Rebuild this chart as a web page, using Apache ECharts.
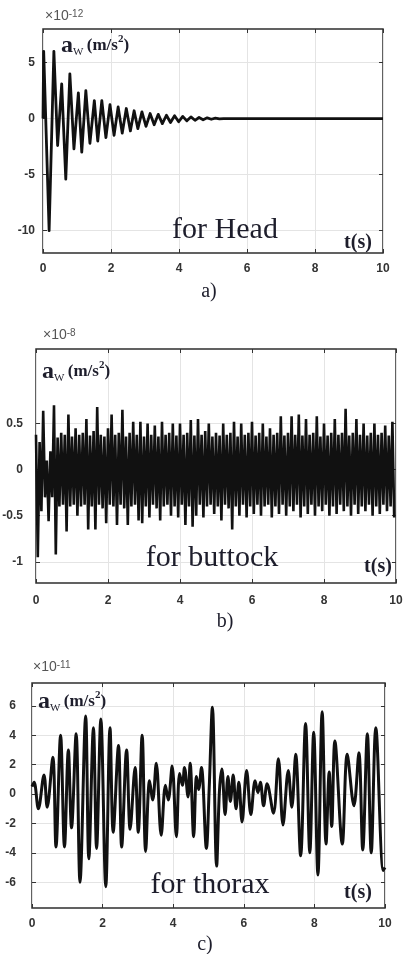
<!DOCTYPE html>
<html><head><meta charset="utf-8">
<script src="https://cdn.jsdelivr.net/npm/echarts@6/dist/echarts.min.js"></script>
<style>html,body{margin:0;padding:0;background:#fff}#c{width:404px;height:954px}</style>
</head><body><div id="c"></div>
<script>
// ---- data ----
const xTicks = [0, 2, 4, 6, 8, 10];
const headYTicks = [-10, -5, 0, 5];
const buttockYTicks = [-1, -0.5, 0, 0.5];
const thoraxYTicks = [-6, -4, -2, 0, 2, 4, 6];

// a) head: times and values of successive extremes (x 1e-12)
const headT = [0, 0.02, 0.18, 0.32, 0.43, 0.55, 0.67, 0.79, 0.91, 1.04, 1.14, 1.26, 1.38, 1.51, 1.61,
  1.73, 1.85, 1.97, 2.09, 2.21, 2.33, 2.45, 2.57, 2.68, 2.79, 2.91, 3.03, 3.15, 3.27, 3.39,
  3.51, 3.63, 3.75, 3.87, 3.99, 4.11, 4.23, 4.35, 4.47, 4.59, 4.71, 4.83, 4.95, 5.07, 5.19, 5.31, 10];
const headV = [0, 6.0, -10.0, 6.0, -2.4, 3.1, -5.4, 4.0, -2.7, 2.3, -3.0, 2.5, -2.2, 1.6, -2.0,
  1.6, -1.7, 1.25, -1.5, 1.05, -1.3, 0.9, -1.1, 0.7, -0.9, 0.6, -0.7, 0.45, -0.55, 0.38,
  -0.45, 0.3, -0.35, 0.25, -0.28, 0.2, -0.2, 0.15, -0.15, 0.1, -0.1, 0.07, -0.06, 0.04, -0.03, 0, 0];

// b) buttock: upper extremes at t = 0, 0.1, ... and lower extremes half a step later (x 1e-8)
const buttockStep = 0.1;
const buttockHigh = [0.38, 0.30, 0.64, 0.10, 0.20, 0.70, 0.35, 0.40, 0.38, 0.60,
  0.36, 0.45, 0.38, 0.40, 0.55, 0.37, 0.42, 0.68, 0.38, 0.36,
  0.45, 0.60, 0.38, 0.40, 0.65, 0.36, 0.40, 0.52, 0.38, 0.52,
  0.36, 0.50, 0.38, 0.48, 0.36, 0.52, 0.38, 0.40, 0.50, 0.37,
  0.50, 0.38, 0.40, 0.54, 0.37, 0.55, 0.38, 0.42, 0.50, 0.36,
  0.40, 0.37, 0.50, 0.38, 0.40, 0.52, 0.36, 0.50, 0.38, 0.40,
  0.52, 0.37, 0.40, 0.50, 0.36, 0.45, 0.38, 0.40, 0.58, 0.37,
  0.40, 0.58, 0.38, 0.60, 0.37, 0.55, 0.38, 0.40, 0.58, 0.36,
  0.50, 0.37, 0.40, 0.55, 0.38, 0.40, 0.66, 0.37, 0.40, 0.55,
  0.38, 0.50, 0.37, 0.40, 0.50, 0.38, 0.40, 0.48, 0.37, 0.52];
const buttockLow = [-0.95, -0.45, -0.30, -0.56, -0.30, -0.92, -0.40, -0.38, -0.67, -0.40,
  -0.38, -0.50, -0.40, -0.38, -0.65, -0.40, -0.65, -0.38, -0.42, -0.58,
  -0.38, -0.40, -0.60, -0.38, -0.42, -0.60, -0.40, -0.38, -0.55, -0.58,
  -0.40, -0.52, -0.38, -0.42, -0.55, -0.40, -0.38, -0.50, -0.40, -0.52,
  -0.38, -0.60, -0.40, -0.62, -0.50, -0.38, -0.52, -0.40, -0.38, -0.48,
  -0.40, -0.55, -0.38, -0.42, -0.65, -0.40, -0.50, -0.38, -0.52, -0.40,
  -0.48, -0.38, -0.50, -0.40, -0.38, -0.52, -0.40, -0.48, -0.38, -0.50,
  -0.40, -0.45, -0.38, -0.52, -0.40, -0.48, -0.38, -0.50, -0.40, -0.45,
  -0.38, -0.50, -0.40, -0.48, -0.38, -0.45, -0.40, -0.50, -0.38, -0.48,
  -0.40, -0.45, -0.38, -0.50, -0.40, -0.48, -0.38, -0.45, -0.40, -0.52];

// c) thorax: times and values of successive extremes (x 1e-11)
const thoraxT = [0, 0.06, 0.18, 0.34, 0.43, 0.59, 0.68, 0.81, 0.92, 1.03, 1.12, 1.25, 1.36, 1.52, 1.61,
  1.74, 1.83, 1.95, 2.09, 2.21, 2.30, 2.45, 2.54, 2.68, 2.78, 2.92, 3.01, 3.12, 3.22, 3.33,
  3.42, 3.52, 3.66, 3.78, 3.86, 3.97, 4.09, 4.18, 4.26, 4.32, 4.42, 4.48, 4.58, 4.66, 4.72,
  4.80, 4.94, 5.02, 5.11, 5.23, 5.31, 5.38, 5.47, 5.55, 5.62, 5.70, 5.78, 5.86, 5.95, 6.08,
  6.20, 6.32, 6.40, 6.47, 6.56, 6.66, 6.84, 6.98, 7.11, 7.26, 7.36, 7.47, 7.61, 7.75, 7.87,
  7.98, 8.10, 8.22, 8.33, 8.42, 8.49, 8.58, 8.79, 8.93, 9.12, 9.26, 9.37, 9.50, 9.61, 9.74, 9.95, 10.0];
const thoraxV = [0.5, 0.8, -1.0, 1.3, -0.9, 2.5, -3.6, 4.0, -3.6, 3.0, -2.3, 4.1, -6.0, 5.3, -4.4,
  4.5, -3.7, 5.1, -6.3, 4.5, -2.6, 3.3, -3.6, 3.0, -2.4, 1.8, -2.6, 4.0, -3.9, 0.9,
  -0.4, 2.1, -2.8, 0.6, -0.4, 1.9, -2.9, 1.4, 0.6, 1.8, -0.2, 2.1, -2.9, 1.2, 0.3,
  1.8, -3.7, 0.4, 5.9, -4.9, 0.2, 1.7, -1.4, 1.2, -0.5, 1.3, -1.0, 0.8, -1.9, 1.6,
  -1.4, 0.9, 0.1, 0.8, -0.8, 0.7, -1.3, 2.4, -2.1, 1.6, -0.9, 2.7, -4.2, 4.8, -4.0,
  4.2, -5.5, 5.6, -3.4, 1.5, -2.2, 3.6, -3.4, 2.7, -0.8, 2.8, -3.8, 4.1, -4.0, 4.5, -5.2, -5.0];

// ---- build ----
const headData = headT.map((t, i) => [t, headV[i]]);
const buttockData = [];
buttockHigh.forEach((v, i) => {
  buttockData.push([i * buttockStep, v]);
  buttockData.push([i * buttockStep + buttockStep / 2, buttockLow[i]]);
});
const thoraxData = thoraxT.map((t, i) => [t, thoraxV[i]]);

const TICK = '#333';
const GRIDC = '#e4e4e4';
const labelStyle = { color: '#333', fontSize: 12, fontWeight: 'bold', fontFamily: 'Liberation Sans, Arial, sans-serif' };

const panels = [
  { grid: { left: 43, top: 29, width: 340, height: 224 }, ymin: -12, ymax: 8, yt: headYTicks, ylm: 8, xlm: 10 },
  { grid: { left: 36, top: 349, width: 360, height: 234 }, ymin: -1.23, ymax: 1.31, yt: buttockYTicks, ylm: 13, xlm: 12 },
  { grid: { left: 32, top: 683, width: 353, height: 225 }, ymin: -7.75, ymax: 7.55, yt: thoraxYTicks, ylm: 16, xlm: 10 }
];

const grids = [], xAxes = [], yAxes = [];
panels.forEach((p, i) => {
  grids.push(Object.assign({ show: true, borderColor: '#2e2e2e', borderWidth: 1.5, containLabel: false, outerBoundsMode: 'none', backgroundColor: 'transparent' }, p.grid));
  xAxes.push({ type: 'value', gridIndex: i, min: 0, max: 10, interval: 2, position: 'bottom',
    axisLine: { show: false, onZero: false },
    axisTick: { show: true, inside: true, length: 4, lineStyle: { color: TICK, width: 1 } },
    axisLabel: Object.assign({ margin: p.xlm, customValues: xTicks }, labelStyle),
    splitLine: { show: true, lineStyle: { color: GRIDC, width: 1 } } });
  xAxes.push({ type: 'value', gridIndex: i, min: 0, max: 10, interval: 2, position: 'top',
    axisLine: { show: false, onZero: false },
    axisTick: { show: true, inside: true, length: 4, lineStyle: { color: TICK, width: 1 } },
    axisLabel: { show: false }, splitLine: { show: false } });
  yAxes.push({ type: 'value', gridIndex: i, min: p.ymin, max: p.ymax, position: 'left',
    axisLine: { show: false, onZero: false },
    axisTick: { show: true, inside: true, length: 4, customValues: p.yt, lineStyle: { color: TICK, width: 1 } },
    axisLabel: Object.assign({ margin: p.ylm, customValues: p.yt }, labelStyle),
    splitLine: { show: true, lineStyle: { color: GRIDC, width: 1 } } });
  yAxes.push({ type: 'value', gridIndex: i, min: p.ymin, max: p.ymax, position: 'right',
    axisLine: { show: false, onZero: false },
    axisTick: { show: true, inside: true, length: 4, customValues: p.yt, lineStyle: { color: TICK, width: 1 } },
    axisLabel: { show: false }, splitLine: { show: false } });
});

const serif = 'Liberation Serif, Times New Roman, serif';
const TXT = '#1d1d2b';
function unitLabel(x, y) {
  return { type: 'text', x: x, y: y, z: 100, style: {
    text: '{a|a}{w|W} {u|(m/s}{s|2}{u|)}', verticalAlign: 'middle', fill: TXT,
    rich: {
      a: { fontFamily: serif, fontWeight: 'bold', fontSize: 24, fill: TXT },
      w: { fontFamily: serif, fontSize: 11, verticalAlign: 'bottom', fill: TXT },
      u: { fontFamily: serif, fontWeight: 'bold', fontSize: 17, fill: TXT },
      s: { fontFamily: serif, fontWeight: 'bold', fontSize: 11, verticalAlign: 'top', fill: TXT }
    } } };
}
function mult(x, y, e) {
  return { type: 'text', x: x, y: y, z: 100, style: {
    text: '×10{s|' + e + '}', verticalAlign: 'middle', fill: '#555', fontSize: 14,
    fontFamily: 'Liberation Sans, Arial, sans-serif',
    rich: { s: { fontSize: 10, verticalAlign: 'top', fill: '#555', fontFamily: 'Liberation Sans, Arial, sans-serif' } } } };
}
function txt(x, y, s, size, bold) {
  return { type: 'text', x: x, y: y, z: 100, style: { text: s, fontFamily: serif, fontSize: size,
    fontWeight: bold ? 'bold' : 'normal', fill: TXT, align: 'center', verticalAlign: 'middle' } };
}

const graphic = [
  mult(45, 16, '-12'), unitLabel(61, 46), txt(225, 230, 'for Head', 30), txt(358, 243, 't(s)', 20, true), txt(209, 292, 'a)', 20),
  mult(43, 335, '-8'), unitLabel(42, 372), txt(212, 558, 'for buttock', 30), txt(378, 567, 't(s)', 20, true), txt(225, 622, 'b)', 20),
  mult(33, 667, '-11'), unitLabel(38, 702), txt(210, 885, 'for thorax', 30), txt(358, 893, 't(s)', 20, true), txt(205, 945, 'c)', 20)
];

const chart = echarts.init(document.getElementById('c'), null, { renderer: 'canvas' });
chart.setOption({
  animation: false,
  backgroundColor: '#fff',
  grid: grids, xAxis: xAxes, yAxis: yAxes,
  series: [
    { type: 'line', xAxisIndex: 0, yAxisIndex: 0, data: headData, showSymbol: false, lineStyle: { color: '#111', width: 2.8, join: 'round' } },
    { type: 'line', xAxisIndex: 2, yAxisIndex: 2, data: buttockData, showSymbol: false, lineStyle: { color: '#111', width: 2.6 } },
    { type: 'line', xAxisIndex: 4, yAxisIndex: 4, data: thoraxData, showSymbol: false, smooth: 0.35, lineStyle: { color: '#111', width: 3 } }
  ],
  graphic: graphic
});
</script></body></html>
